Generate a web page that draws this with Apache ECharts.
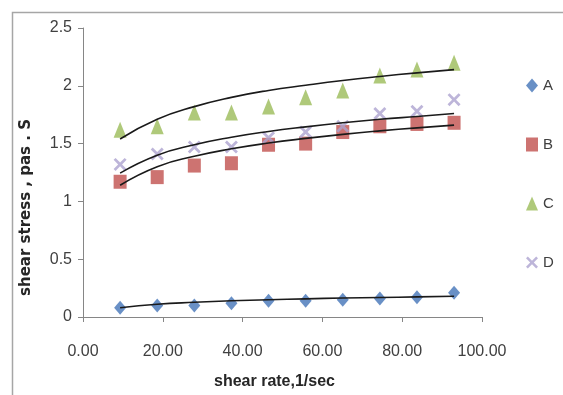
<!DOCTYPE html>
<html>
<head>
<meta charset="utf-8">
<script src="https://cdn.jsdelivr.net/npm/echarts@6/dist/echarts.min.js"></script>
<style>html,body{margin:0;padding:0;background:#fff}#c{width:563px;height:395px}</style>
</head>
<body>
<div id="c"></div>
<script>
var shearRate = [9.3, 18.6, 27.9, 37.2, 46.5, 55.8, 65.1, 74.4, 83.7, 93.0];
var seriesA = [0.08, 0.10, 0.10, 0.12, 0.14, 0.14, 0.15, 0.16, 0.17, 0.21];
var seriesB = [1.17, 1.21, 1.31, 1.33, 1.49, 1.50, 1.60, 1.65, 1.67, 1.68];
var seriesC = [1.62, 1.65, 1.77, 1.77, 1.82, 1.90, 1.96, 2.09, 2.14, 2.20];
var seriesD = [1.32, 1.41, 1.47, 1.47, 1.55, 1.60, 1.65, 1.76, 1.78, 1.88];
var trendA = [0.08, 0.11, 0.127, 0.14, 0.149, 0.157, 0.164, 0.169, 0.174, 0.18];
var trendB = [1.14, 1.30, 1.39, 1.455, 1.505, 1.545, 1.58, 1.61, 1.636, 1.66];
var trendC = [1.54, 1.71, 1.82, 1.90, 1.96, 2.005, 2.046, 2.081, 2.112, 2.14];
var trendD = [1.245, 1.40, 1.49, 1.555, 1.605, 1.645, 1.68, 1.71, 1.735, 1.76];
var names = ['A', 'B', 'C', 'D'];

function pairs(v) { return shearRate.map(function (x, i) { return [x, v[i]]; }); }
var xSym = 'path://M0,1.5L1.5,0L5,3.5L8.5,0L10,1.5L6.5,5L10,8.5L8.5,10L5,6.5L1.5,10L0,8.5L3.5,5Z';
var colors = ['#4474B8', '#C0504D', '#9BBB59', '#ADA3D0'];
var symbols = ['diamond', 'rect', 'triangle', xSym];
var sizes = [[12, 14], [13, 14], [13, 16], [13, 13]];
var data = [seriesA, seriesB, seriesC, seriesD];
var trends = [trendA, trendB, trendC, trendD];

var series = [];
trends.forEach(function (t, i) {
  series.push({
    type: 'line', name: 'trend' + names[i], data: pairs(t), smooth: true,
    showSymbol: false, silent: true, z: 3,
    lineStyle: { color: '#1a1a1a', width: 1.6 }
  });
});
data.forEach(function (d, i) {
  series.push({
    type: 'scatter', name: names[i], data: pairs(d), symbol: symbols[i],
    symbolSize: sizes[i], z: 2,
    itemStyle: { color: colors[i] }
  });
});

var chart = echarts.init(document.getElementById('c'), null, { renderer: 'canvas' });
chart.setOption({
  animation: false,
  backgroundColor: '#fff',
  graphic: [{
    type: 'rect', shape: { x: 12.5, y: 12.5, width: 600, height: 420 },
    style: { fill: 'none', stroke: '#a6a6a6', lineWidth: 1.5 }, z: 0
  }],
  grid: { left: 83, right: 81, top: 28, bottom: 78 },
  legend: {
    orient: 'vertical', left: 521, top: 73, itemGap: 44, itemWidth: 12, itemHeight: 14,
    data: names.map(function (n, i) { return { name: n, icon: symbols[i] }; }),
    textStyle: { fontFamily: 'Liberation Sans', fontSize: 15, color: '#404040' }
  },
  xAxis: {
    type: 'value', min: 0, max: 100, interval: 20,
    name: 'shear rate,1/sec', nameLocation: 'middle', nameGap: 57,
    nameTextStyle: { fontFamily: 'Liberation Sans', fontSize: 16, fontWeight: 'bold', color: '#262626', padding: [0, 16, 0, 0] },
    axisLine: { lineStyle: { color: '#868686' } },
    axisTick: { show: true, length: 5, lineStyle: { color: '#868686' } },
    axisLabel: { fontFamily: 'Liberation Sans', fontSize: 16, color: '#404040', margin: 27,
      formatter: function (v) { return v.toFixed(2); } },
    splitLine: { show: false }
  },
  yAxis: {
    type: 'value', min: 0, max: 2.5, interval: 0.5,
    name: 'shear stress , pas . S', nameLocation: 'middle', nameGap: 49, nameRotate: 90,
    nameTextStyle: { fontFamily: 'DejaVu Sans', fontSize: 15, fontWeight: 'bold', color: '#262626', padding: [0, 70, 0, 0] },
    axisLine: { show: true, lineStyle: { color: '#868686' } },
    axisTick: { show: true, length: 5, lineStyle: { color: '#868686' } },
    axisLabel: { fontFamily: 'Liberation Sans', fontSize: 16, color: '#404040', margin: 11,
      formatter: function (v) { return String(v); } },
    splitLine: { show: false }
  },
  series: series
});
</script>
</body>
</html>
